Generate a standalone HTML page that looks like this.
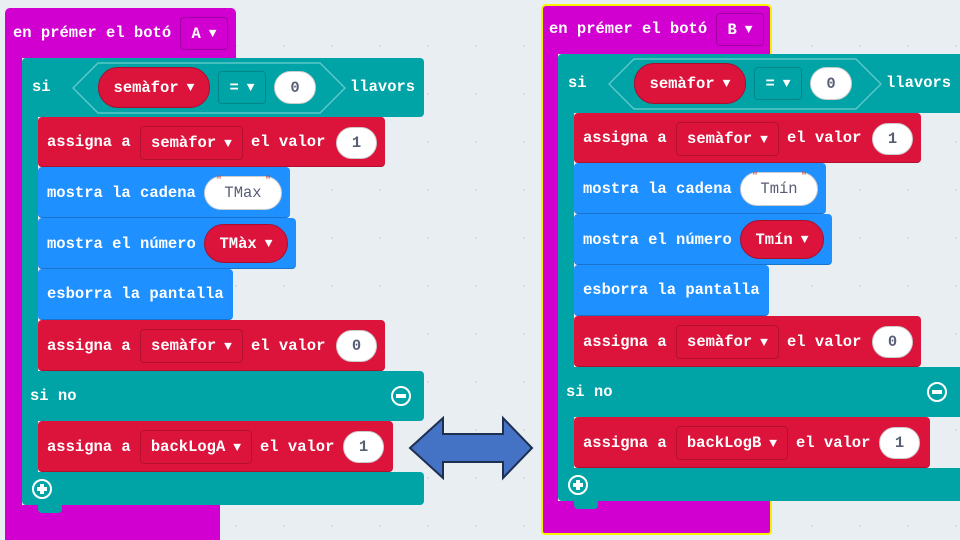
<!DOCTYPE html>
<html><head><meta charset="utf-8">
<style>
html,body{margin:0;padding:0}
body{width:960px;height:535px;overflow:hidden;position:relative;background:#e9eef2;
background-image:radial-gradient(#d6dbe0 1px,transparent 1.2px);background-size:48px 48px;background-position:20px 22px}
.g{position:absolute;left:0;top:0;width:960px;height:540px}
.b{position:absolute;box-sizing:border-box}
.p{background:#d100d1}
.tl{background:#00a3a6;border-radius:4px}
.r{background:#dc143c;border-radius:4px;border-bottom:1px solid #b01030}
.bl{background:#1e90ff;border-radius:4px;border-bottom:1px solid #1a74cc}
.t{position:absolute;font:bold 15.5px "Liberation Mono",monospace;color:#fff;line-height:20px;white-space:nowrap}
.dd{position:absolute;box-sizing:border-box;border:1px solid rgba(0,0,0,0.18);border-radius:4px;font:bold 15.5px "Liberation Mono",monospace;color:#fff;display:flex;align-items:center;justify-content:center;white-space:nowrap}
.pill{position:absolute;box-sizing:border-box;border-radius:20px;font:bold 15.5px "Liberation Mono",monospace;display:flex;align-items:center;justify-content:center;white-space:nowrap}
.w{background:#fff;color:#575e75;border:1px solid #ccc}
.rp{background:#dc143c;color:#fff;border:1px solid #a80f2e}
.tri{font-size:13px;margin-left:8px}
.q{position:absolute;color:#c0392b;font:10px "Liberation Mono",monospace}
.ic{position:absolute;width:20px;height:20px;border:2px solid #fff;border-radius:50%;box-sizing:border-box}
.ic:before{content:"";position:absolute;left:3px;top:6px;width:10px;height:4px;background:#fff}
.ic.plus:after{content:"";position:absolute;left:6px;top:3px;width:4px;height:10px;background:#fff}
</style></head><body>

<!-- LEFT -->
<div class="g">
  <div class="b p" style="left:5px;top:8px;width:231px;height:50px;border-radius:5px 5px 0 0"></div>
  <div class="b p" style="left:5px;top:50px;width:17px;height:490px"></div>
  <div class="b p" style="left:5px;top:505px;width:215px;height:35px"></div>
  <div class="t" style="left:13px;top:23px">en prémer el botó</div>
  <div class="dd" style="left:180px;top:17px;width:48px;height:33px;border-color:#a000a0">A<span class="tri">▼</span></div>

  <div class="b tl" style="left:22px;top:58px;width:402px;height:59px"></div>
  <div class="b tl" style="left:22px;top:110px;width:16px;height:390px;border-radius:0"></div>
  <div class="b tl" style="left:22px;top:371px;width:402px;height:50px"></div>
  <div class="b tl" style="left:22px;top:472px;width:402px;height:33px"></div>
  <div class="b tl" style="left:38px;top:500px;width:24px;height:13px;border-radius:0 0 4px 4px"></div>
  <svg style="position:absolute;left:72px;top:62px" width="274" height="52"><polygon points="26,1 248,1 273,26 248,51 26,51 1,26" fill="#00a3a6" stroke="#5cc7c8" stroke-width="1.5"/></svg>
  <div class="pill rp" style="left:98px;top:67px;width:112px;height:41px">semàfor<span class="tri">▼</span></div>
  <div class="dd" style="left:218px;top:71px;width:48px;height:33px">=<span class="tri">▼</span></div>
  <div class="pill w" style="left:274px;top:71px;width:42px;height:33px">0</div>
  <div class="t" style="left:32px;top:77px">si</div>
  <div class="t" style="left:350px;top:77px">llavors</div>

  <div class="b r" style="left:38px;top:117px;width:347px;height:50px"></div>
  <div class="t" style="left:47px;top:132px">assigna a</div>
  <div class="dd" style="left:140px;top:126px;width:103px;height:34px">semàfor<span class="tri">▼</span></div>
  <div class="t" style="left:251px;top:132px">el valor</div>
  <div class="pill w" style="left:336px;top:127px;width:41px;height:32px">1</div>

  <div class="b bl" style="left:38px;top:167px;width:252px;height:51px"></div>
  <div class="t" style="left:47px;top:183px">mostra la cadena</div>
  <div class="pill w" style="left:204px;top:176px;width:78px;height:34px;font-weight:normal">TMax</div>
  <div class="q" style="left:216px;top:176px">"</div><div class="q" style="left:265px;top:176px">"</div>

  <div class="b bl" style="left:38px;top:218px;width:258px;height:51px"></div>
  <div class="t" style="left:47px;top:234px">mostra el número</div>
  <div class="pill rp" style="left:204px;top:224px;width:84px;height:39px">TMàx<span class="tri">▼</span></div>

  <div class="b bl" style="left:38px;top:269px;width:195px;height:51px"></div>
  <div class="t" style="left:47px;top:284px">esborra la pantalla</div>

  <div class="b r" style="left:38px;top:320px;width:347px;height:51px"></div>
  <div class="t" style="left:47px;top:336px">assigna a</div>
  <div class="dd" style="left:140px;top:329px;width:103px;height:34px">semàfor<span class="tri">▼</span></div>
  <div class="t" style="left:251px;top:336px">el valor</div>
  <div class="pill w" style="left:336px;top:330px;width:41px;height:32px">0</div>

  <div class="t" style="left:30px;top:386px">si no</div>
  <div class="ic" style="left:391px;top:386px"></div>

  <div class="b r" style="left:38px;top:421px;width:355px;height:51px"></div>
  <div class="t" style="left:47px;top:437px">assigna a</div>
  <div class="dd" style="left:140px;top:430px;width:112px;height:34px">backLogA<span class="tri">▼</span></div>
  <div class="t" style="left:260px;top:437px">el valor</div>
  <div class="pill w" style="left:343px;top:431px;width:41px;height:32px">1</div>
  <div class="ic plus" style="left:32px;top:479px"></div>
</div>

<!-- RIGHT -->
<div class="g" style="left:536px;top:-4px">
  <div class="b p" style="left:5px;top:8px;width:231px;height:50px;border-radius:5px 5px 0 0;border:2px solid #f5f500;border-bottom:none"></div>
  <div class="b p" style="left:5px;top:50px;width:17px;height:457px;border-left:2px solid #f5f500"></div>
  <div class="b p" style="left:5px;top:505px;width:231px;height:34px;border:2px solid #f5f500;border-top:none;border-radius:0 0 4px 4px"></div>
  <div class="t" style="left:13px;top:23px">en prémer el botó</div>
  <div class="dd" style="left:180px;top:17px;width:48px;height:33px;border-color:#a000a0">B<span class="tri">▼</span></div>

  <div class="b tl" style="left:22px;top:58px;width:410px;height:59px"></div>
  <div class="b tl" style="left:22px;top:110px;width:16px;height:390px;border-radius:0"></div>
  <div class="b tl" style="left:22px;top:371px;width:410px;height:50px"></div>
  <div class="b tl" style="left:22px;top:472px;width:410px;height:33px"></div>
  <div class="b tl" style="left:38px;top:500px;width:24px;height:13px;border-radius:0 0 4px 4px"></div>
  <svg style="position:absolute;left:72px;top:62px" width="274" height="52"><polygon points="26,1 248,1 273,26 248,51 26,51 1,26" fill="#00a3a6" stroke="#5cc7c8" stroke-width="1.5"/></svg>
  <div class="pill rp" style="left:98px;top:67px;width:112px;height:41px">semàfor<span class="tri">▼</span></div>
  <div class="dd" style="left:218px;top:71px;width:48px;height:33px">=<span class="tri">▼</span></div>
  <div class="pill w" style="left:274px;top:71px;width:42px;height:33px">0</div>
  <div class="t" style="left:32px;top:77px">si</div>
  <div class="t" style="left:350px;top:77px">llavors</div>

  <div class="b r" style="left:38px;top:117px;width:347px;height:50px"></div>
  <div class="t" style="left:47px;top:132px">assigna a</div>
  <div class="dd" style="left:140px;top:126px;width:103px;height:34px">semàfor<span class="tri">▼</span></div>
  <div class="t" style="left:251px;top:132px">el valor</div>
  <div class="pill w" style="left:336px;top:127px;width:41px;height:32px">1</div>

  <div class="b bl" style="left:38px;top:167px;width:252px;height:51px"></div>
  <div class="t" style="left:47px;top:183px">mostra la cadena</div>
  <div class="pill w" style="left:204px;top:176px;width:78px;height:34px;font-weight:normal">Tmín</div>
  <div class="q" style="left:216px;top:176px">"</div><div class="q" style="left:265px;top:176px">"</div>

  <div class="b bl" style="left:38px;top:218px;width:258px;height:51px"></div>
  <div class="t" style="left:47px;top:234px">mostra el número</div>
  <div class="pill rp" style="left:204px;top:224px;width:84px;height:39px">Tmín<span class="tri">▼</span></div>

  <div class="b bl" style="left:38px;top:269px;width:195px;height:51px"></div>
  <div class="t" style="left:47px;top:284px">esborra la pantalla</div>

  <div class="b r" style="left:38px;top:320px;width:347px;height:51px"></div>
  <div class="t" style="left:47px;top:336px">assigna a</div>
  <div class="dd" style="left:140px;top:329px;width:103px;height:34px">semàfor<span class="tri">▼</span></div>
  <div class="t" style="left:251px;top:336px">el valor</div>
  <div class="pill w" style="left:336px;top:330px;width:41px;height:32px">0</div>

  <div class="t" style="left:30px;top:386px">si no</div>
  <div class="ic" style="left:391px;top:386px"></div>

  <div class="b r" style="left:38px;top:421px;width:356px;height:51px"></div>
  <div class="t" style="left:47px;top:437px">assigna a</div>
  <div class="dd" style="left:140px;top:430px;width:112px;height:34px">backLogB<span class="tri">▼</span></div>
  <div class="t" style="left:260px;top:437px">el valor</div>
  <div class="pill w" style="left:343px;top:431px;width:41px;height:32px">1</div>
  <div class="ic plus" style="left:32px;top:479px"></div>
</div>

<!-- double arrow -->
<svg style="position:absolute;left:405px;top:414px" width="132" height="70">
  <polygon points="5,34 38,4 38,20 98,20 98,4 127,34 98,64 98,48 38,48 38,64" fill="#4472c4" stroke="#1f2f4f" stroke-width="2" stroke-linejoin="miter"/>
</svg>
</body></html>
